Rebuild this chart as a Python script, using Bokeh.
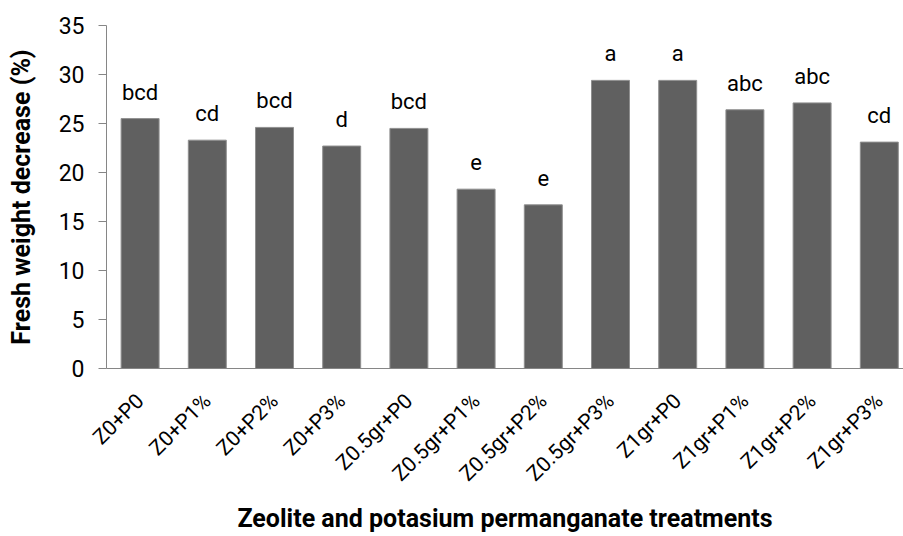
import math
from bokeh.plotting import figure
from bokeh.models import ColumnDataSource, Range1d, FixedTicker, LabelSet
from bokeh.core.properties import value
from bokeh.embed import file_html
from bokeh.resources import INLINE

categories = ["Z0+P0", "Z0+P1%", "Z0+P2%", "Z0+P3%", "Z0.5gr+P0", "Z0.5gr+P1%",
              "Z0.5gr+P2%", "Z0.5gr+P3%", "Z1gr+P0", "Z1gr+P1%", "Z1gr+P2%", "Z1gr+P3%"]
values = [25.5, 23.3, 24.6, 22.7, 24.5, 18.3, 16.7, 29.4, 29.4, 26.4, 27.1, 23.1]
letters = ["bcd", "cd", "bcd", "d", "bcd", "e", "e", "a", "a", "abc", "abc", "cd"]
y_ticks = [0, 5, 10, 15, 20, 25, 30, 35]
x_title = "Zeolite and potasium permanganate treatments"
y_title = "Fresh weight decrease (%)"

FONT = "Roboto"
positions = list(range(len(categories)))
src = ColumnDataSource(dict(x=positions, top=values, lab=letters))

p = figure(width=903, height=536, output_backend="svg", toolbar_location=None,
           x_range=Range1d(-0.5, 11.36), y_range=Range1d(0, 35),
           min_border_left=106, min_border_top=25, min_border_right=0, min_border_bottom=167)
p.outline_line_color = None
p.xgrid.grid_line_color = None
p.ygrid.grid_line_color = None

p.vbar(x="x", top="top", width=0.565, source=src, fill_color="#606060",
       line_color="#8f8f8f", line_width=1)

labels = LabelSet(x="x", y="top", text="lab", source=src, text_align="center",
                  text_baseline="alphabetic", y_offset=19, text_font=value(FONT),
                  text_font_size=value("22px"), text_color="#000000")
p.add_layout(labels)

xa = p.xaxis[0]
xa.ticker = FixedTicker(ticks=positions)
xa.major_label_overrides = {i: c for i, c in enumerate(categories)}
xa.major_label_orientation = math.pi / 4
xa.major_tick_line_color = None
xa.major_tick_out = 0
xa.major_tick_in = 0
xa.minor_tick_line_color = None
xa.axis_line_color = "#868686"
xa.major_label_text_font = FONT
xa.major_label_text_font_size = "21px"
xa.major_label_text_color = "#000000"
xa.major_label_standoff = 29
xa.axis_label = x_title
xa.axis_label_text_font = FONT
xa.axis_label_text_font_style = "bold"
xa.axis_label_text_font_size = "25px"
xa.axis_label_text_color = "#000000"
xa.axis_label_standoff = 7

ya = p.yaxis[0]
ya.ticker = FixedTicker(ticks=y_ticks)
ya.minor_tick_line_color = None
ya.axis_line_color = "#868686"
ya.major_tick_line_color = "#868686"
ya.major_tick_out = 8
ya.major_tick_in = 0
ya.major_label_standoff = 14
ya.major_label_text_font = FONT
ya.major_label_text_font_size = "23px"
ya.major_label_text_color = "#000000"
ya.axis_label = y_title
ya.axis_label_text_font = FONT
ya.axis_label_text_font_style = "bold"
ya.axis_label_text_font_size = "25px"
ya.axis_label_text_color = "#000000"
ya.axis_label_standoff = 20

open("out.html", "w").write(file_html(p, INLINE))
